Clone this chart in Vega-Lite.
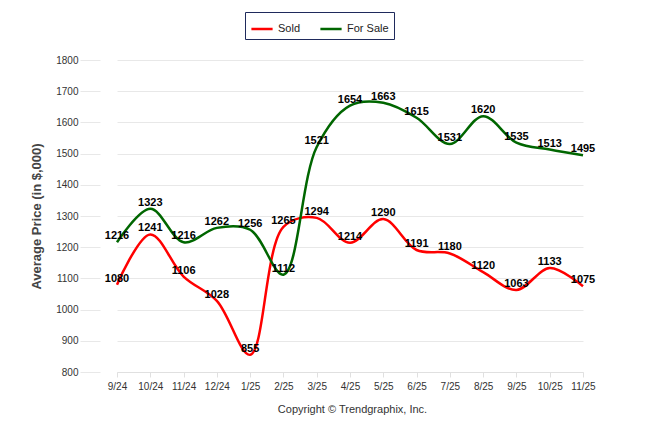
{
  "$schema": "https://vega.github.io/schema/vega-lite/v6.json",
  "width": 520,
  "height": 312,
  "autosize": {"type": "none"},
  "padding": {"left": 100, "top": 60, "right": 26, "bottom": 62},
  "background": "white",
  "config": {
    "font": "Liberation Sans",
    "view": {"stroke": null}
  },
  "data": {
    "values": [
      {"month": "9/24", "series": "Sold", "price": 1080},
      {"month": "10/24", "series": "Sold", "price": 1241},
      {"month": "11/24", "series": "Sold", "price": 1106},
      {"month": "12/24", "series": "Sold", "price": 1028},
      {"month": "1/25", "series": "Sold", "price": 855},
      {"month": "2/25", "series": "Sold", "price": 1265},
      {"month": "3/25", "series": "Sold", "price": 1294},
      {"month": "4/25", "series": "Sold", "price": 1214},
      {"month": "5/25", "series": "Sold", "price": 1290},
      {"month": "6/25", "series": "Sold", "price": 1191},
      {"month": "7/25", "series": "Sold", "price": 1180},
      {"month": "8/25", "series": "Sold", "price": 1120},
      {"month": "9/25", "series": "Sold", "price": 1063},
      {"month": "10/25", "series": "Sold", "price": 1133},
      {"month": "11/25", "series": "Sold", "price": 1075},
      {"month": "9/24", "series": "For Sale", "price": 1216},
      {"month": "10/24", "series": "For Sale", "price": 1323},
      {"month": "11/24", "series": "For Sale", "price": 1216},
      {"month": "12/24", "series": "For Sale", "price": 1262},
      {"month": "1/25", "series": "For Sale", "price": 1256},
      {"month": "2/25", "series": "For Sale", "price": 1112},
      {"month": "3/25", "series": "For Sale", "price": 1521},
      {"month": "4/25", "series": "For Sale", "price": 1654},
      {"month": "5/25", "series": "For Sale", "price": 1663},
      {"month": "6/25", "series": "For Sale", "price": 1615},
      {"month": "7/25", "series": "For Sale", "price": 1531},
      {"month": "8/25", "series": "For Sale", "price": 1620},
      {"month": "9/25", "series": "For Sale", "price": 1535},
      {"month": "10/25", "series": "For Sale", "price": 1513},
      {"month": "11/25", "series": "For Sale", "price": 1495}
    ]
  },
  "encoding": {
    "x": {
      "field": "month",
      "type": "ordinal",
      "sort": ["9/24","10/24","11/24","12/24","1/25","2/25","3/25","4/25","5/25","6/25","7/25","8/25","9/25","10/25","11/25"],
      "scale": {"type": "point", "range": [17, 483], "padding": 0},
      "axis": {
        "title": "Copyright © Trendgraphix, Inc.",
        "titleFont": "Liberation Sans",
        "titleFontSize": 11,
        "titleFontWeight": "normal",
        "titleColor": "#333333",
        "titlePadding": 12,
        "titleX": 252,
        "labelAngle": 0,
        "labelFontSize": 10,
        "labelColor": "#333333",
        "labelPadding": 4,
        "tickColor": "#e0e0e0",
        "tickSize": 5,
        "domainColor": "#e0e0e0",
        "grid": false
      }
    },
    "y": {
      "field": "price",
      "type": "quantitative",
      "scale": {"domain": [800, 1800], "nice": false, "zero": false},
      "axis": {
        "title": "Average Price (in $,000)",
        "titleFontSize": 13,
        "titleFontWeight": "bold",
        "titleColor": "#444444",
        "titlePadding": 12,
        "values": [800,900,1000,1100,1200,1300,1400,1500,1600,1700,1800],
        "format": "d",
        "labelFontSize": 10,
        "labelColor": "#333333",
        "labelPadding": 2,
        "tickSize": 20,
        "tickColor": "#e8e8e8",
        "gridColor": "#e8e8e8",
        "domain": false
      }
    }
  },
  "layer": [
    {
      "mark": {"type": "line", "interpolate": "catmull-rom", "strokeWidth": 2.5},
      "encoding": {
        "color": {
          "field": "series",
          "type": "nominal",
          "scale": {"domain": ["Sold", "For Sale"], "range": ["#ff0000", "#006600"]},
          "legend": {
            "title": null,
            "orient": "none",
            "legendX": 145,
            "legendY": -48,
            "direction": "horizontal",
            "symbolType": "stroke",
            "symbolSize": 450,
            "symbolStrokeWidth": 2.5,
            "labelFontSize": 11,
            "labelColor": "#222222",
            "columnPadding": 14,
            "padding": 5,
            "strokeColor": "#1f2a5c",
            "fillColor": "white",
            "cornerRadius": 0
          }
        }
      }
    },
    {
      "mark": {"type": "text", "baseline": "bottom", "dy": -1, "fontWeight": "bold", "fontSize": 11, "color": "black"},
      "encoding": {
        "text": {"field": "price", "type": "quantitative"}
      }
    }
  ]
}
